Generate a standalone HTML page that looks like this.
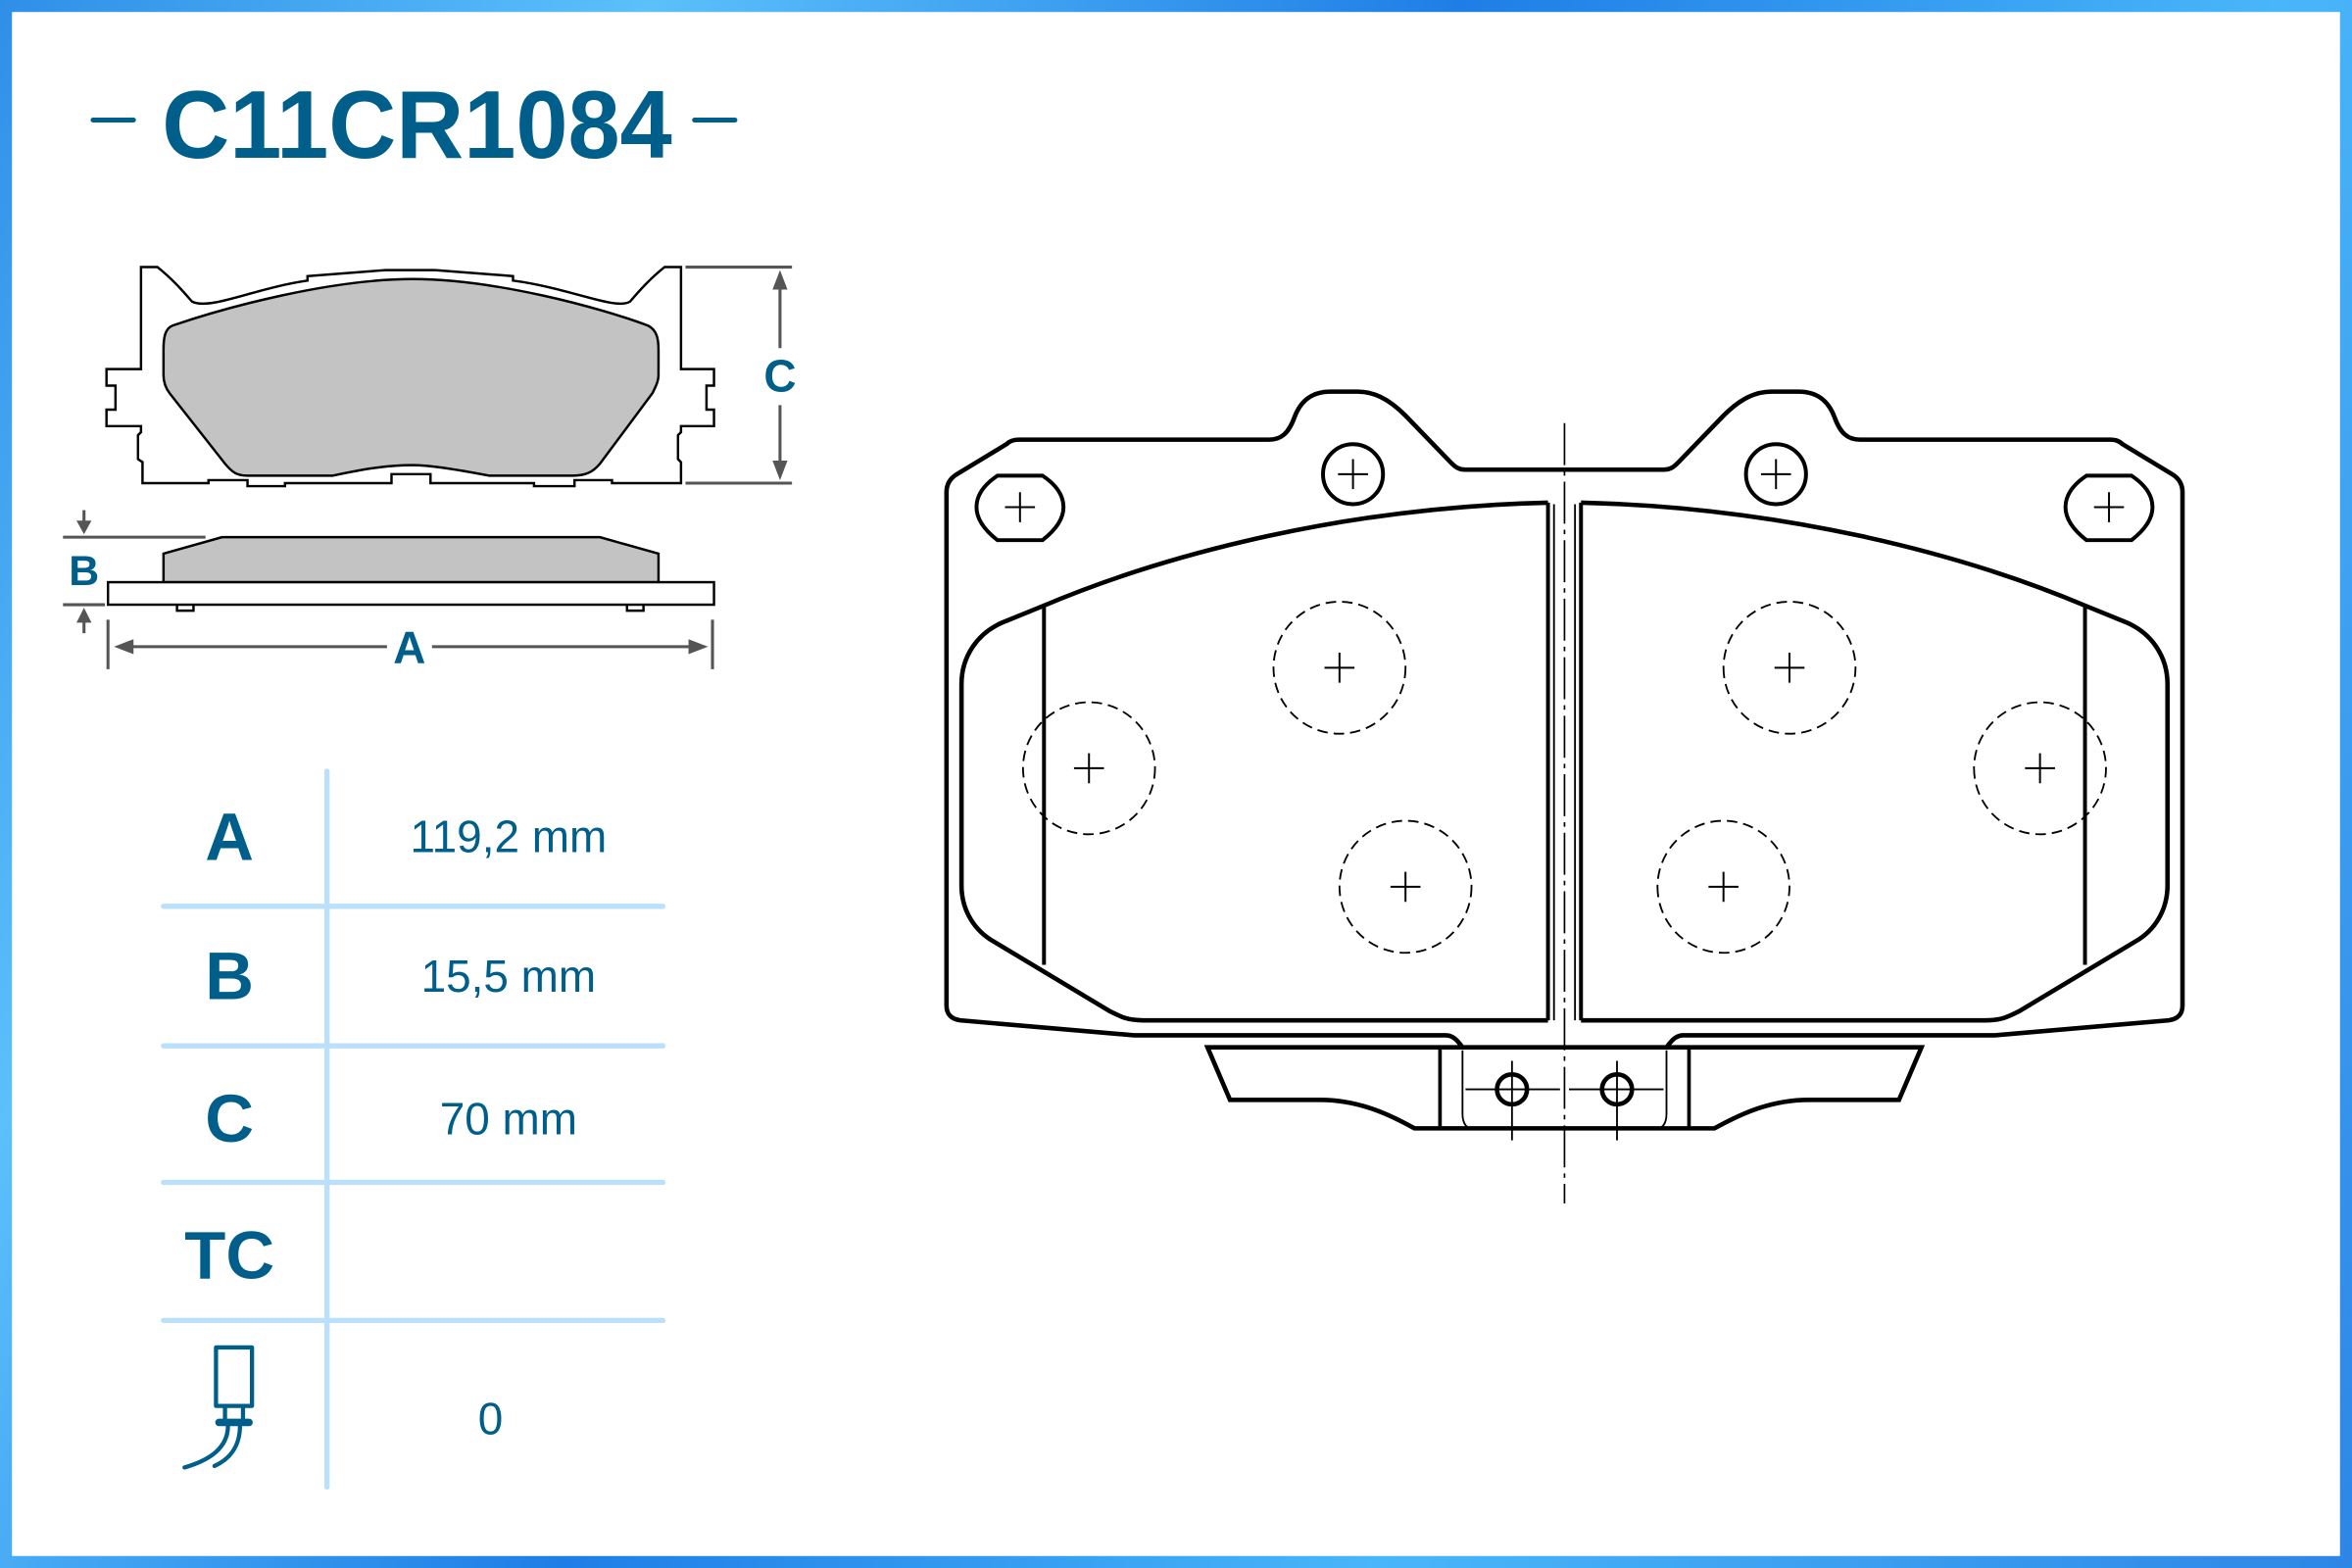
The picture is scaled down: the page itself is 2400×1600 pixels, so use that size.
<!DOCTYPE html>
<html><head><meta charset="utf-8"><style>
html,body{margin:0;padding:0;width:2400px;height:1600px;overflow:hidden}
.f{position:absolute;left:0;top:0;width:2400px;height:1600px;background:linear-gradient(120deg,#2f8fe8 0%,#5cc0fb 20%,#1e7ee6 45%,#49b6fa 70%,#2d86e6 100%)}
svg{position:absolute;left:0;top:0}
text{font-family:"Liberation Sans",Arial,sans-serif;fill:#005f8a}
</style></head><body>
<div class="f"></div>
<svg width="2400" height="1600" viewBox="0 0 1568 1045" preserveAspectRatio="none">
<rect x="8" y="8" width="1552" height="1029" fill="#fff"/>
<!-- title -->
<line x1="62" y1="80" x2="89" y2="80" stroke="#005f8a" stroke-width="3.2" stroke-linecap="round"/>
<line x1="463" y1="80" x2="490" y2="80" stroke="#005f8a" stroke-width="3.2" stroke-linecap="round"/>
<text x="278" y="105" font-size="64" font-weight="bold" text-anchor="middle" textLength="340" lengthAdjust="spacingAndGlyphs">C11CR1084</text>

<!-- small pad top view -->
<g stroke="#000" stroke-width="1.6" fill="none">
<path fill="#fff" d="M94,178 L105,178 C115,186 122,194 128,201 C140,207 170,192 205,187 L205,184 L257,180 L290,180 L290,180 L342,184 L342,187 C380,192 410,207 420,201 C426,194 433,186 443,178 L454,178 L454,246 L476,246 L476,257 L471,257 L471,273 L476,273 L476,284 L454,284 L454,288 L452,290 L452,306 L454,308 L454,322 L408,322 L408,320 L383,320 L383,324 L356,324 L356,322 L287,322 L287,316 L261,316 L261,322 L190,322 L190,324 L165,324 L165,320 L139,320 L139,322 L95,322 L95,308 L92,306 L92,290 L94,288 L94,284 L71,284 L71,273 L77,273 L77,257 L71,257 L71,246 L94,246 Z"/>
<path fill="#c3c3c3" d="M115,217 C150,205 220,186 275,186 C330,186 400,205 432,217 C438,220 439,226 439,233 L439,250 C439,254 437,258 435,262 L400,309 C395,315 390,317 382,317 L326,317 C300,312 285,310 275,310 C260,310 245,312 222,317 L165,317 C158,317 155,315 150,309 L113,262 C110,258 109,254 109,250 L109,233 C109,225 110,219 115,217 Z"/>
<!-- side view -->
<path fill="#c3c3c3" d="M109,388 L109,369 L148,358 L400,358 L439,369 L439,388 Z"/>
<rect x="72" y="388" width="404" height="15" fill="#fff"/>
<path d="M118,403 L118,407 L129,407 L129,403 M418,403 L418,407 L429,407 L429,403"/>
</g>
<!-- dims -->
<g stroke="#555" stroke-width="2" fill="#555">
<line x1="457" y1="178" x2="528" y2="178" fill="none"/>
<line x1="457" y1="322" x2="528" y2="322" fill="none"/>
<line x1="520" y1="190" x2="520" y2="232"/>
<line x1="520" y1="270" x2="520" y2="310"/>
<path d="M515,193 L520,180 L525,193 Z M515,307 L520,320 L525,307 Z" stroke="none"/>
<line x1="42" y1="358" x2="137" y2="358"/>
<line x1="42" y1="403" x2="70" y2="403"/>
<line x1="56" y1="340" x2="56" y2="348"/>
<path d="M51,347 L56,356 L61,347 Z M51,415 L56,405 L61,415 Z" stroke="none"/>
<line x1="56" y1="414" x2="56" y2="422"/>
<line x1="72" y1="413" x2="72" y2="446"/>
<line x1="475" y1="413" x2="475" y2="446"/>
<line x1="84" y1="431" x2="258" y2="431"/>
<line x1="288" y1="431" x2="462" y2="431"/>
<path d="M76,431 L89,426 L89,436 Z M472,431 L459,426 L459,436 Z" stroke="none"/>
</g>
<text x="520" y="261" font-size="30" font-weight="bold" text-anchor="middle">C</text>
<text x="56" y="390" font-size="28" font-weight="bold" text-anchor="middle">B</text>
<text x="273" y="442" font-size="30" font-weight="bold" text-anchor="middle">A</text>

<!-- table -->
<g stroke="#bbe0fb" stroke-width="3.5" stroke-linecap="round">
<line x1="218" y1="514" x2="218" y2="991"/>
<line x1="109" y1="604" x2="442" y2="604"/>
<line x1="109" y1="697" x2="442" y2="697"/>
<line x1="109" y1="788" x2="442" y2="788"/>
<line x1="109" y1="880" x2="442" y2="880"/>
</g>
<g font-size="45" font-weight="bold" text-anchor="middle">
<text x="153" y="573">A</text>
<text x="153" y="666">B</text>
<text x="153" y="761">C</text>
<text x="153" y="852">TC</text>
</g>
<g font-size="30" text-anchor="middle">
<text x="339" y="568">119,2 mm</text>
<text x="339" y="661">15,5 mm</text>
<text x="339" y="756">70 mm</text>
<text x="327" y="956">0</text>
</g>
<!-- sensor icon -->
<g stroke="#005f8a" stroke-width="2.8" fill="none" stroke-linecap="round" stroke-linejoin="round">
<rect x="144" y="898" width="24" height="39"/>
<path d="M150,937 L150,946 M162,937 L162,946"/>
<line x1="146" y1="948" x2="166" y2="948" stroke-width="5"/>
<path d="M152,950 C152,965 140,973 123,978"/>
<path d="M160,950 C160,965 152,973 143,977"/>
</g>

<!-- main drawing -->
<defs>
<g id="half">
<path d="M1043,313 L977,313 C972,313 970,311 967,308 L937,277 C925,265 915,261 905,261 L887,261 C872,261 866,270 863,278 C859,289 854,293 846,293 L679,293 C676,293 673,294 671,296 L638,316 C633,319 631,323 631,328 L631,670 C631,676 634,679 640,680 L756,690 L964,690 C969,690 972,694 975,698" stroke-width="3"/>
<path d="M1032,335 C900,338 780,368 695,404 L668,415 C652,422 641,437 641,456 L641,590 C641,605 648,618 660,626 L740,674 C748,678 752,680 762,680 L1032,680" stroke-width="3"/>
<line x1="696" y1="404" x2="696" y2="643" stroke-width="2.6"/>
<line x1="1032" y1="335" x2="1032" y2="680" stroke-width="2.6"/>
<line x1="1036" y1="336" x2="1036" y2="680" stroke-width="1.2"/>
<path d="M665,317 L695,317 C704,323 709,330 709,338 C709,346 704,353 695,360 L665,360 C656,353 651,346 651,338 C651,330 656,323 665,317 Z" stroke-width="2.6"/>
<circle cx="902" cy="316" r="20" stroke-width="2.6"/>
<g stroke-width="1.3">
<path d="M670,338 L690,338 M680,328 L680,348"/>
<path d="M892,316 L912,316 M902,306 L902,326"/>
<path d="M716,512 L736,512 M726,502 L726,522"/>
<path d="M883,445 L903,445 M893,435 L893,455"/>
<path d="M927,591 L947,591 M937,581 L937,601"/>
</g>
<g stroke-width="1.2" stroke-dasharray="7,4">
<circle cx="726" cy="512" r="44"/>
<circle cx="893" cy="445" r="44"/>
<circle cx="937" cy="591" r="44"/>
</g>
<!-- tab -->
<path d="M1043,698 L805,698 L820,733 L880,733 C905,733 925,742 943,752 L1043,752" stroke-width="3"/>
<line x1="960" y1="698" x2="960" y2="752" stroke-width="2.4"/>
<path d="M975,700 L975,742 C975,748 977,751 980,752" stroke-width="1.2"/>
<circle cx="1008" cy="726" r="10" stroke-width="3"/>
<path d="M977,726 L1040,726 M1008,707 L1008,760" stroke-width="1.2"/>
</g>
</defs>
<g stroke="#000" fill="none">
<use href="#half"/>
<use href="#half" transform="translate(2086,0) scale(-1,1)"/>
<line x1="1043" y1="282" x2="1043" y2="802" stroke-width="1.1" stroke-dasharray="28,4,3,4"/>
</g>
</svg>
</body></html>
